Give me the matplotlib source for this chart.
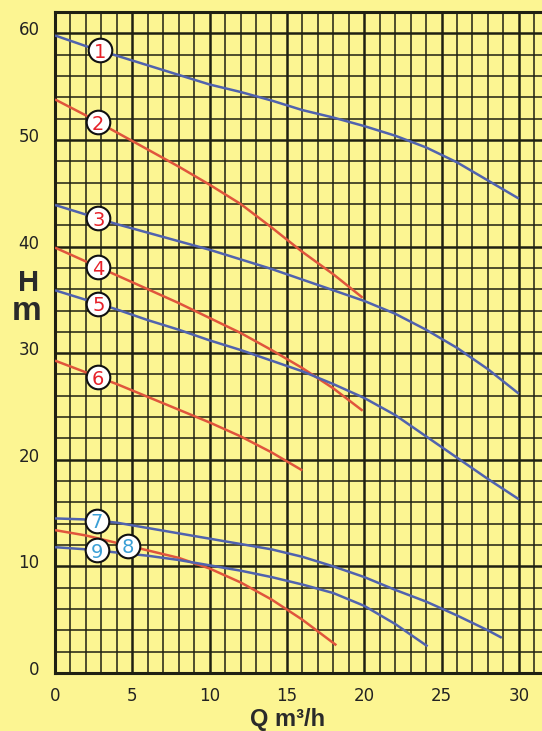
import numpy as np
import matplotlib
matplotlib.use("Agg")
import matplotlib.pyplot as plt
import matplotlib.transforms as mtrans

# pump curves, flow Q (m3/h) vs head H (m)
q1 = [0, 2, 4, 6, 8, 10, 12, 14, 16, 18, 20, 22, 24, 26, 28, 30]
h1 = [59.8, 58.8, 57.9, 57.0, 56.1, 55.2, 54.5, 53.7, 52.8, 52.1, 51.3, 50.4, 49.3, 47.9, 46.2, 44.5]
q2 = [0, 2, 4, 6, 8, 10, 12, 14, 16, 18, 19.9]
h2 = [53.8, 52.3, 50.7, 49.1, 47.5, 45.8, 44.0, 41.8, 39.5, 37.4, 35.2]
q3 = [0, 2, 4, 6, 8, 10, 12, 14, 16, 18, 20, 22, 24, 26, 28, 30]
h3 = [43.9, 43.0, 42.1, 41.3, 40.5, 39.7, 38.8, 37.9, 36.9, 35.9, 34.9, 33.7, 32.2, 30.5, 28.5, 26.2]
q4 = [0, 2, 4, 6, 8, 10, 12, 14, 16, 18, 19.9]
h4 = [39.9, 38.6, 37.3, 36.0, 34.7, 33.3, 31.9, 30.3, 28.6, 26.7, 24.6]
q5 = [0, 2, 4, 6, 8, 10, 12, 14, 16, 18, 20, 22, 24, 26, 28, 30]
h5 = [35.9, 35.0, 34.1, 33.1, 32.2, 31.2, 30.3, 29.3, 28.3, 27.1, 25.8, 24.2, 22.2, 20.2, 18.2, 16.3]
q6 = [0, 2, 4, 6, 8, 10, 12, 14, 16]
h6 = [29.3, 28.2, 27.1, 25.9, 24.7, 23.5, 22.2, 20.7, 19.0]
q7 = [0, 2, 4, 6, 8, 10, 12, 14, 16, 18, 20, 22, 24, 26, 28, 28.9]
h7 = [14.5, 14.4, 14.1, 13.6, 13.1, 12.6, 12.1, 11.6, 10.9, 10.0, 9.0, 7.8, 6.7, 5.4, 4.0, 3.3]
q8 = [0, 2, 4, 6, 8, 10, 12, 14, 16, 18.2]
h8 = [13.4, 12.9, 12.2, 11.5, 10.8, 9.8, 8.5, 6.9, 5.0, 2.6]
q9 = [0, 2, 4, 6, 8, 10, 12, 14, 16, 18, 20, 22, 24.1]
h9 = [11.8, 11.6, 11.3, 11.0, 10.6, 10.1, 9.6, 9.0, 8.3, 7.5, 6.3, 4.6, 2.5]

labels = ["1", "2", "3", "4", "5", "6", "7", "8", "9"]
x_ticks = [0, 5, 10, 15, 20, 25, 30]
y_ticks = [0, 10, 20, 30, 40, 50, 60]

BG = "#fcf592"
GRID = "#1f2012"
BLUE = "#5062ae"
RED = "#e0553c"
TXT_RED = "#e62129"
TXT_BLUE = "#3a9fd6"

curves = [(q1, h1), (q2, h2), (q3, h3), (q4, h4), (q5, h5),
          (q6, h6), (q7, h7), (q8, h8), (q9, h9)]
line_colors = [BLUE, RED, BLUE, RED, BLUE, RED, BLUE, RED, BLUE]
text_colors = [TXT_RED] * 6 + [TXT_BLUE] * 3
label_at = [2.9, 2.8, 2.8, 2.8, 2.8, 2.8, 2.7, 4.7, 2.7]

fig = plt.figure(figsize=(5.42, 7.31), dpi=100, facecolor=BG)
ax = fig.add_axes([55 / 542, 58 / 731, 487 / 542, 661 / 731])
ax.set_facecolor(BG)
ax.set_xlim(0, 31.5)
ax.set_ylim(0, 62)

# graph paper grid
ax.set_xticks(x_ticks)
ax.set_yticks(y_ticks)
ax.set_xticks(np.arange(0, 32, 1), minor=True)
ax.set_yticks(np.arange(0, 62, 2), minor=True)
ax.grid(which="minor", color=GRID, lw=1.1)
ax.grid(which="major", color=GRID, lw=1.8)
ax.set_axisbelow(True)
ax.tick_params(which="both", length=0)
ax.tick_params(axis="x", pad=10)
ax.tick_params(axis="y", pad=11)
for lab in ax.get_xticklabels() + ax.get_yticklabels():
    lab.set_fontfamily("DejaVu Sans")
    lab.set_fontsize(12)
    lab.set_color("#222222")
offset = mtrans.ScaledTranslation(0, 5 / 100, fig.dpi_scale_trans)
for lab in ax.get_yticklabels():
    lab.set_transform(lab.get_transform() + offset)

for side in ["left", "bottom", "top"]:
    ax.spines[side].set_color(GRID)
    ax.spines[side].set_linewidth(2.2)
ax.spines["right"].set_visible(False)

for (q, h), c in zip(curves, line_colors):
    ax.plot(q, h, color=c, lw=1.8, solid_capstyle="butt", zorder=3)

for (q, h), lab, tc, xl in zip(curves, labels, text_colors, label_at):
    yl = np.interp(xl, q, h)
    ax.plot(xl, yl, "o", ms=17, mfc="white", mec="#111111", mew=1.5, zorder=4)
    ax.text(xl, yl, lab, color=tc, fontsize=14, ha="center", va="center_baseline",
            family="DejaVu Sans", zorder=5)

fig.text(29 / 542, 1 - 283 / 731, "H", fontsize=21, fontweight="bold",
         family="Liberation Sans", color="#2a2a2a", ha="center", va="center")
fig.text(27 / 542, 1 - 311 / 731, "m", fontsize=24, fontweight="bold",
         family="Liberation Sans", color="#2a2a2a", ha="center", va="center")
fig.text(250 / 542, 1 - 726 / 731, "Q m\u00b3/h", fontsize=17, fontweight="bold",
         family="Liberation Sans", color="#2a2a2a", ha="left", va="baseline")

fig.savefig("out.png", dpi=100, facecolor=BG)
